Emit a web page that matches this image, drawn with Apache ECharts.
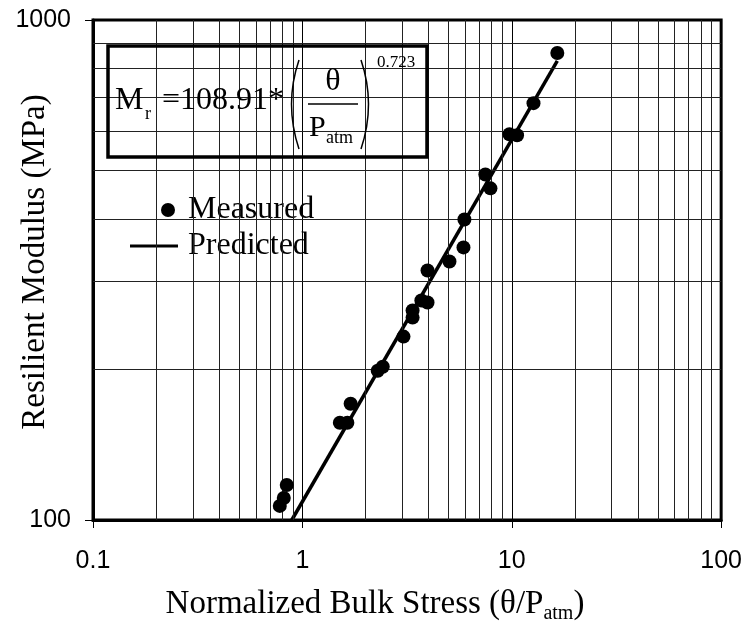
<!DOCTYPE html>
<html>
<head>
<meta charset="utf-8">
<script src="https://cdn.jsdelivr.net/npm/echarts@6/dist/echarts.min.js"></script>
<style>html,body{margin:0;padding:0;background:#fff}#c{width:745px;height:625px}</style>
</head>
<body>
<div id="c"></div>
<script>
// Measured points
var measuredX = [0.78, 0.815, 0.842, 1.51, 1.64, 1.70, 2.29, 2.42, 3.04, 3.36, 3.36, 3.70, 3.96, 3.96, 5.04, 5.88, 5.94, 7.48, 7.91, 9.75, 10.6, 12.7, 16.5];
var measuredY = [106.7, 110.7, 117.5, 156.5, 156.5, 170.8, 198.9, 202.6, 232.7, 254.0, 262.4, 274.8, 272.2, 315.5, 328.9, 350.9, 399, 491, 460.6, 590.9, 588, 681.9, 859];
// Predicted line end points
var predictedX = [0.89, 16.5];
var predictedY = [100, 828];
// Axis ticks / grid values
var xMajorTicks = [0.1, 1, 10, 100];
var yMajorTicks = [100, 1000];
var xMinorGrid = [0.2,0.3,0.4,0.5,0.6,0.7,0.8,0.9,2,3,4,5,6,7,8,9,20,30,40,50,60,70,80,90];
var yMinorGrid = [200,300,400,500,600,700,800,900];

var serif = 'Liberation Serif, Times New Roman, serif';
var sans = 'Liberation Sans, Arial, sans-serif';

var chart = echarts.init(document.getElementById('c'), null, {renderer: 'canvas'});
var measured = measuredX.map(function (x, i) { return [x, measuredY[i]]; });
var predicted = predictedX.map(function (x, i) { return [x, predictedY[i]]; });
var gridLines = xMinorGrid.map(function (v) { return {xAxis: v}; })
  .concat(yMinorGrid.map(function (v) { return {yAxis: v}; }));
function fmt(v) { return String(+(+v).toPrecision(6)); }

chart.setOption({
  animation: false,
  backgroundColor: '#fff',
  grid: {left: 93, right: 23, top: 20, bottom: 105, show: true, borderColor: '#000', borderWidth: 3, backgroundColor: 'transparent'},
  xAxis: {
    type: 'log', logBase: 10, min: 0.1, max: 100,
    axisLine: {show: true, lineStyle: {color: '#000', width: 3}},
    axisTick: {show: true, length: 8, lineStyle: {color: '#000', width: 1}},
    axisLabel: {fontFamily: sans, fontSize: 25, color: '#000', margin: 29, formatter: fmt},
    splitLine: {show: true, lineStyle: {color: '#000', width: 1}}
  },
  yAxis: {
    type: 'log', logBase: 10, min: 100, max: 1000,
    axisLine: {show: true, lineStyle: {color: '#000', width: 3}},
    axisTick: {show: true, length: 8, lineStyle: {color: '#000', width: 1}},
    axisLabel: {fontFamily: sans, fontSize: 25, color: '#000', margin: 22, formatter: fmt},
    splitLine: {show: true, lineStyle: {color: '#000', width: 1}}
  },
  legend: [
    {data: [{name: 'Measured', icon: 'circle', itemStyle: {color: '#000', opacity: 1}}], orient: 'vertical', left: 161, top: 194, padding: 0,
     itemWidth: 14, itemHeight: 14, itemGap: 0, selectedMode: false,
     textStyle: {fontFamily: serif, fontSize: 32, color: '#000', padding: [0, 0, 0, 8]}},
    {data: [{name: 'Predicted', icon: 'rect'}], orient: 'vertical', left: 130, top: 230, padding: 0,
     itemWidth: 48, itemHeight: 3, itemGap: 0, selectedMode: false,
     textStyle: {fontFamily: serif, fontSize: 32, color: '#000', padding: [0, 0, 0, 5]}}
  ],
  series: [
    {name: 'grid', type: 'line', data: [], z: 1, silent: true,
     markLine: {silent: true, symbol: 'none', animation: false, label: {show: false},
       lineStyle: {color: '#222', width: 1, type: 'solid'}, data: gridLines}},
    {name: 'Predicted', type: 'line', data: predicted, showSymbol: false, symbol: 'none', z: 4,
     lineStyle: {color: '#000', width: 3.5}, itemStyle: {color: '#000'}},
    {name: 'Measured', type: 'scatter', data: measured, symbol: 'circle', symbolSize: 14, z: 5,
     itemStyle: {color: '#000', opacity: 1}}
  ],
  graphic: [
    {type: 'rect', shape: {x: 108, y: 46, width: 319, height: 111}, style: {fill: 'none', stroke: '#000', lineWidth: 3.5}, z: 10},
    {type: 'text', x: 115, y: 101, style: {text: 'M', font: '32px ' + serif, fill: '#000', align: 'left', verticalAlign: 'middle'}, z: 10},
    {type: 'text', x: 145, y: 114, style: {text: 'r', font: '18px ' + serif, fill: '#000', align: 'left', verticalAlign: 'middle'}, z: 10},
    {type: 'text', x: 162, y: 101, style: {text: '=108.91*', font: '32px ' + serif, fill: '#000', align: 'left', verticalAlign: 'middle'}, z: 10},
    {type: 'bezierCurve', shape: {x1: 299, y1: 60, x2: 299, y2: 149, cpx1: 284, cpy1: 104}, style: {stroke: '#000', lineWidth: 1.5, fill: 'none'}, z: 10},
    {type: 'bezierCurve', shape: {x1: 361, y1: 60, x2: 361, y2: 149, cpx1: 376, cpy1: 104}, style: {stroke: '#000', lineWidth: 1.5, fill: 'none'}, z: 10},
    {type: 'text', x: 333, y: 82, style: {text: 'θ', font: '32px ' + serif, fill: '#000', align: 'center', verticalAlign: 'middle'}, z: 10},
    {type: 'line', shape: {x1: 308, y1: 104, x2: 358, y2: 104}, style: {stroke: '#000', lineWidth: 1.5}, z: 10},
    {type: 'text', x: 309, y: 128, style: {text: 'P', font: '30px ' + serif, fill: '#000', align: 'left', verticalAlign: 'middle'}, z: 10},
    {type: 'text', x: 326, y: 138, style: {text: 'atm', font: '18px ' + serif, fill: '#000', align: 'left', verticalAlign: 'middle'}, z: 10},
    {type: 'text', x: 377, y: 63, style: {text: '0.723', font: '17px ' + serif, fill: '#000', align: 'left', verticalAlign: 'middle'}, z: 10},
    {type: 'text', x: 375, y: 604, z: 10,
     style: {text: '{n|Normalized Bulk Stress (θ/P}{s|atm}{n|)}', align: 'center', verticalAlign: 'middle',
       rich: {n: {fontFamily: serif, fontSize: 33, lineHeight: 40, verticalAlign: 'middle', fill: '#000', color: '#000'},
              s: {fontFamily: serif, fontSize: 20, lineHeight: 20, verticalAlign: 'bottom', fill: '#000', color: '#000'}}}},
    {type: 'text', x: 35, y: 262, rotation: Math.PI / 2, z: 10,
     style: {text: 'Resilient Modulus (MPa)', font: '33px ' + serif, fill: '#000', align: 'center', verticalAlign: 'middle'}}
  ]
});
</script>
</body>
</html>
